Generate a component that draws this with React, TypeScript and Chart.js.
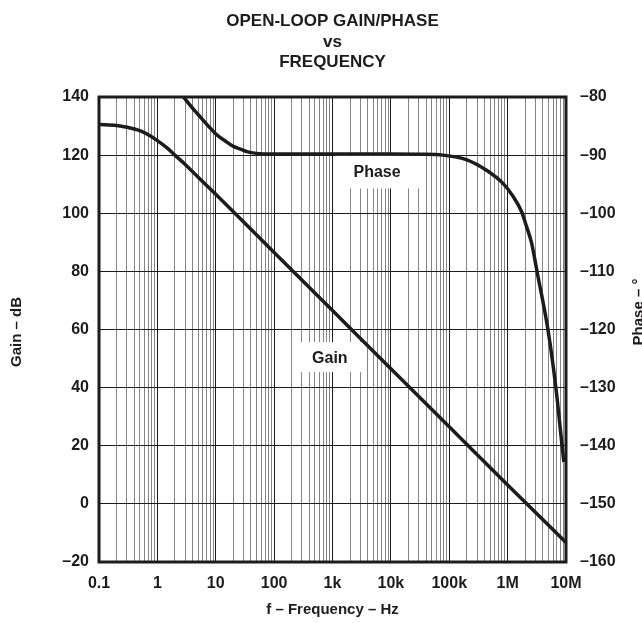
import React, { useEffect, useRef } from "react";
import { Chart, registerables } from "chart.js";

Chart.register(...registerables);

// ---- data ----
const titleLines = ["OPEN-LOOP GAIN/PHASE", "vs", "FREQUENCY"];
const xAxisTitle = "f – Frequency – Hz";
const yAxisTitle = "Gain – dB";
const y1AxisTitle = "Phase – °";

const decadeValues = [0.1, 1, 10, 100, 1e3, 1e4, 1e5, 1e6, 1e7];
const decadeLabels = ["0.1", "1", "10", "100", "1k", "10k", "100k", "1M", "10M"];

const gainFreq = [0.1, 0.2, 0.3, 0.5, 0.7, 1, 1.5, 2, 3, 5, 10, 100, 1e3, 1e4, 1e5, 1e6, 1e7];
const gainDb = [130.5, 130.2, 129.6, 128.4, 127.0, 125.0, 122.3, 120.0, 116.8, 112.4, 106.5, 86.5, 66.5, 46.5, 26.5, 6.5, -13.3];

const phaseFreq = [2.2, 2.8, 4, 5.4, 7.5, 10.4, 14, 20, 27, 34, 50, 100, 1e3, 1e4, 3e4, 7.8e4, 2e5, 4.35e5, 8.4e5, 1.24e6, 1.73e6, 2.11e6, 2.57e6, 3.2e6, 4.94e6, 6.69e6, 8.57e6, 9.2e6];
const phaseDeg = [-78.7, -80, -81.9, -83.4, -85.0, -86.5, -87.45, -88.5, -89.0, -89.4, -89.7, -89.8, -89.8, -89.8, -89.85, -90, -90.8, -92.6, -94.9, -97.1, -99.7, -102.3, -105.1, -110.1, -120.2, -129.9, -140, -142.8];

const gainLabel = { text: "Gain", f: 900, v: 50.5 };
const phaseLabel = { text: "Phase", f: 5800, v: -92.9 };

const FONT = "'Liberation Sans', Arial, Helvetica, sans-serif";
const INK = "#1e1b1c";

function allLogTicks(): number[] {
  const out: number[] = [];
  for (let e = -1; e <= 6; e++) {
    for (let m = 1; m <= 9; m++) out.push(Number((m * Math.pow(10, e)).toPrecision(10)));
  }
  out.push(1e7);
  return out;
}
function isDecade(v: number) {
  const l = Math.log10(v);
  return Math.abs(l - Math.round(l)) < 1e-6;
}

const overlay = {
  id: "overlay",
  beforeDatasetsDraw(chart: any) {
    const ctx = chart.ctx;
    const x = chart.scales.x;
    const y = chart.scales.y;
    const y1 = chart.scales.y1;
    ctx.save();
    ctx.font = `bold 16px ${FONT}`;
    ctx.textAlign = "center";
    ctx.textBaseline = "middle";
    const boxes = [
      { lab: phaseLabel, px: x.getPixelForValue(phaseLabel.f), py: y1.getPixelForValue(phaseLabel.v), w: 84, h: 33 },
      { lab: gainLabel, px: x.getPixelForValue(gainLabel.f), py: y.getPixelForValue(gainLabel.v), w: 66, h: 30 },
    ];
    for (const b of boxes) {
      ctx.fillStyle = "#fff";
      ctx.fillRect(b.px - b.w / 2, b.py - b.h / 2, b.w, b.h);
      ctx.fillStyle = INK;
      ctx.fillText(b.lab.text, b.px, b.py + 1);
    }
    ctx.restore();
  },
  afterDraw(chart: any) {
    const ctx = chart.ctx;
    const a = chart.chartArea;
    ctx.save();
    ctx.strokeStyle = INK;
    ctx.lineWidth = 3;
    ctx.strokeRect(a.left, a.top, a.right - a.left, a.bottom - a.top);

    ctx.fillStyle = INK;
    ctx.textAlign = "center";
    ctx.textBaseline = "middle";
    ctx.font = `bold 17px ${FONT}`;
    const cx = (a.left + a.right) / 2;
    const ys = [21, 42, 62];
    titleLines.forEach((t, i) => ctx.fillText(t, cx, ys[i]));

    ctx.font = `bold 15px ${FONT}`;
    ctx.fillText(xAxisTitle, cx, 610);

    ctx.save();
    ctx.translate(17, 332);
    ctx.rotate(-Math.PI / 2);
    ctx.fillText(yAxisTitle, 0, 0);
    ctx.restore();

    ctx.save();
    ctx.translate(639, 312);
    ctx.rotate(-Math.PI / 2);
    ctx.fillText(y1AxisTitle, 0, 0);
    ctx.restore();
    ctx.restore();
  },
};

export default function App() {
  const ref = useRef<HTMLCanvasElement>(null);
  useEffect(() => {
    document.body.style.margin = "0";
    const canvas = ref.current!;
    const ticks = allLogTicks();
    const chart = new Chart(canvas, {
      type: "scatter",
      data: {
        datasets: [
          {
            label: "Gain",
            data: gainFreq.map((f, i) => ({ x: f, y: gainDb[i] })),
            yAxisID: "y",
            showLine: true,
            borderColor: INK,
            borderWidth: 3.5,
            pointRadius: 0,
            cubicInterpolationMode: "monotone",
            fill: false,
          },
          {
            label: "Phase",
            data: phaseFreq.map((f, i) => ({ x: f, y: phaseDeg[i] })),
            yAxisID: "y1",
            showLine: true,
            borderColor: INK,
            borderWidth: 3.5,
            pointRadius: 0,
            cubicInterpolationMode: "monotone",
            fill: false,
          },
        ],
      },
      options: {
        responsive: false,
        animation: false,
        devicePixelRatio: 1,
        layout: { padding: { top: 97, left: 0, right: 0, bottom: 0 } },
        plugins: { legend: { display: false }, tooltip: { enabled: false }, title: { display: false } },
        scales: {
          x: {
            type: "logarithmic",
            min: 0.1,
            max: 1e7,
            afterBuildTicks: (s: any) => {
              s.ticks = ticks.map((v) => ({ value: v, major: isDecade(v) }));
            },
            afterFit: (s: any) => {
              s.height = 61;
            },
            grid: {
              drawTicks: false,
              lineWidth: 1,
              color: (c: any) => (c.tick && isDecade(c.tick.value) ? INK : "#858585"),
            },
            border: { display: false },
            ticks: {
              autoSkip: false,
              maxRotation: 0,
              padding: 12,
              color: INK,
              font: { family: FONT, size: 16, weight: "bold" },
              callback: (v: any) => {
                const val = Number(v);
                if (!isDecade(val)) return "";
                const idx = decadeValues.findIndex((d) => Math.abs(Math.log10(d) - Math.log10(val)) < 1e-6);
                return idx >= 0 ? decadeLabels[idx] : "";
              },
            },
          },
          y: {
            position: "left",
            min: -20,
            max: 140,
            afterFit: (s: any) => {
              s.width = 99;
            },
            grid: { drawTicks: false, color: INK, lineWidth: 1 },
            border: { display: false },
            ticks: {
              stepSize: 20,
              padding: 10,
              color: INK,
              font: { family: FONT, size: 16, weight: "bold" },
              callback: (v: any) => (Number(v) < 0 ? "–" + Math.abs(Number(v)) : String(v)),
            },
          },
          y1: {
            position: "right",
            min: -160,
            max: -80,
            afterFit: (s: any) => {
              s.width = 76;
            },
            grid: { display: false, drawTicks: false },
            border: { display: false },
            ticks: {
              stepSize: 10,
              padding: 14,
              color: INK,
              font: { family: FONT, size: 16, weight: "bold" },
              callback: (v: any) => (Number(v) < 0 ? "–" + Math.abs(Number(v)) : String(v)),
            },
          },
        },
      },
      plugins: [overlay],
    } as any);
    return () => chart.destroy();
  }, []);
  return (
    <div style={{ width: 642, height: 623, background: "#fff" }}>
      <canvas ref={ref} width={642} height={623} style={{ display: "block" }} />
    </div>
  );
}
